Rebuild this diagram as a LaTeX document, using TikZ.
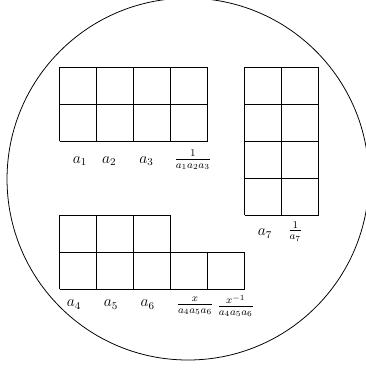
\documentclass[tikz,border=0pt]{standalone}
\usepackage{amsmath}
\usetikzlibrary{positioning}
\tikzstyle{gridline} = [line width=0.7pt]
\tikzstyle{lbl} = [inner sep=0pt, anchor=center, font=\large]
\tikzstyle{rim} = [line width=0.6pt]

\begin{document}
\begin{tikzpicture}
        \useasboundingbox (-1.62,1.82) rectangle (8.27,-8.18);
        \begin{scope}
        \clip (-1.62,1.82) rectangle (8.27,-8.18);
        \draw [rim] (3.46,-3.02) circle (4.89);
        \end{scope}
        % top block
        \draw [gridline] (0,0) grid (4,-2);
        \node (a1) [lbl] at (0.54,-2.54) {$a_1$};
        \node (a2) [lbl] at (1.33,-2.54) {$a_2$};
        \node (a3) [lbl] at (2.34,-2.54) {$a_3$};
        \node (inv123) [lbl] at (3.59,-2.50) {$\frac{1}{a_1a_2a_3}$};
        % right block
        \draw [gridline] (5,0) grid (7,-4);
        \node (a7) [lbl] at (5.54,-4.49) {$a_7$};
        \node (inv7) [lbl] at (6.36,-4.43) {$\frac{1}{a_7}$};
        % bottom block
        \draw [gridline] (0,-4) grid (3,-6);
        \draw [gridline] (3,-5) grid (5,-6);
        \node (a4) [lbl] at (0.38,-6.41) {$a_4$};
        \node (a5) [lbl] at (1.38,-6.41) {$a_5$};
        \node (a6) [lbl] at (2.37,-6.41) {$a_6$};
        \node (x456) [lbl] at (3.65,-6.45) {$\frac{x}{a_4a_5a_6}$};
        \node (xi456) [lbl] at (4.75,-6.45) {$\frac{x^{-1}}{a_4a_5a_6}$};
    \end{tikzpicture}
\end{document}
